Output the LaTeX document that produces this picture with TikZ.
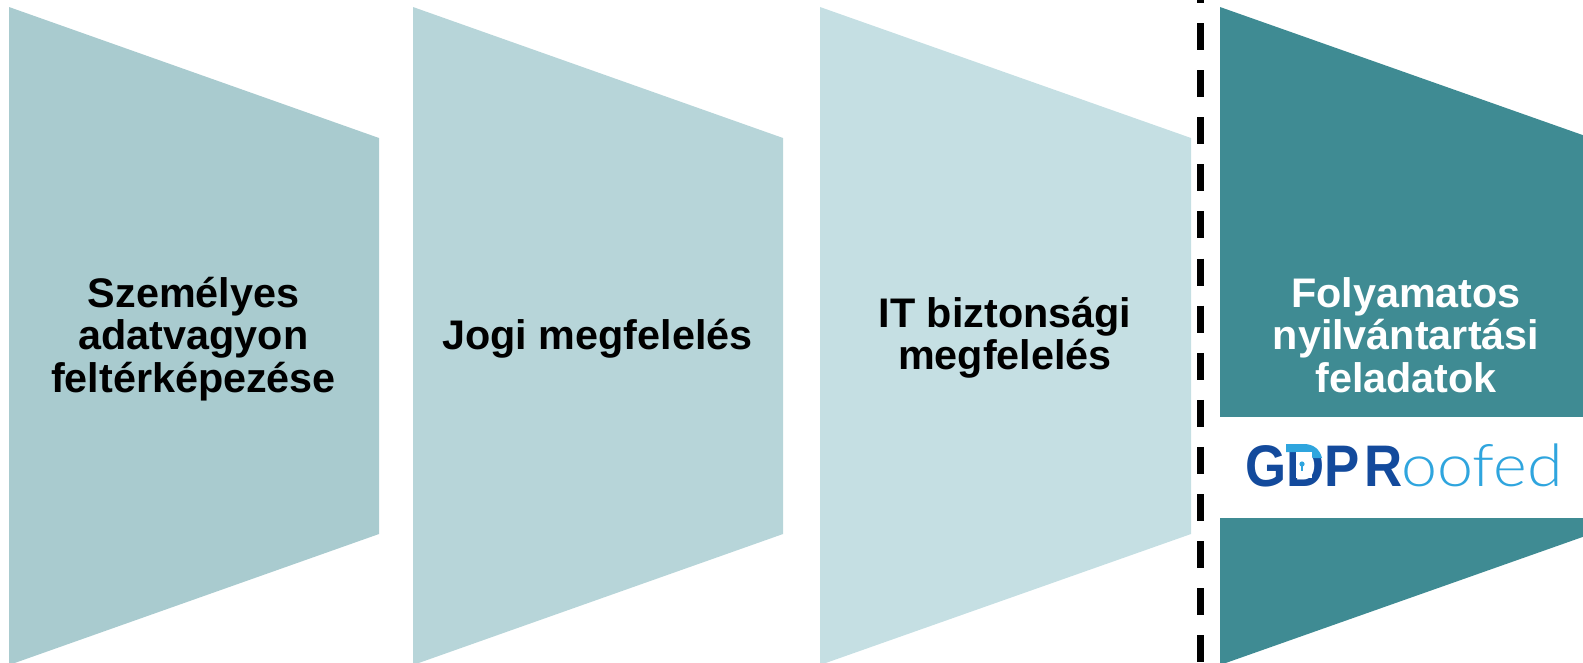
\documentclass[tikz,border=0pt]{standalone}
\usepackage{fontspec}
\setmainfont{Liberation Sans}
\newfontfamily\logolight[FakeStretch=1.1]{Lato Light}
\newfontfamily\logobold[FakeStretch=0.9]{Liberation Sans Bold}
\definecolor{bandA}{HTML}{A9CBCF}
\definecolor{bandB}{HTML}{B7D5D9}
\definecolor{bandC}{HTML}{C5DFE3}
\definecolor{bandD}{HTML}{3F8B93}
\definecolor{logoDark}{HTML}{134A9C}
\definecolor{logoLight}{HTML}{2FA5DE}
\tikzset{
  lbl/.style={font=\bfseries\fontsize{31pt}{31.8pt}\selectfont,align=center,text=black,inner sep=0pt},
  lblw/.style={lbl,text=white},
}
\begin{document}
\begin{tikzpicture}[x=0.75pt,y=-0.75pt]
\useasboundingbox (0,0) rectangle (1583,662);
\clip (0,0) rectangle (1583,662);
\fill[bandA] (9,7) -- (379,138) -- (379,534) -- (9,665) -- cycle;
\fill[bandB] (413,7) -- (783,138) -- (783,534) -- (413,665) -- cycle;
\fill[bandC] (820,7) -- (1191,138) -- (1191,534) -- (820,665) -- cycle;
\fill[bandD] (1220,7) -- (1591,138) -- (1591,534) -- (1220,665) -- cycle;
\fill[white] (1220,417) rectangle (1583,518);
\draw[black,line width=5.25pt,dash pattern=on 20.25pt off 15.08pt] (1200.5,-24.1) -- (1200.5,662);
\node[lbl] (a) at (193.5,339) {Személyes\\adatvagyon\\feltérképezése};
\node[lbl] (b) at (597.5,339) {Jogi megfelelés};
\node[lbl] (c) at (1005,338) {IT biztonsági\\megfelelés};
\node[lblw] (d) at (1406,335) {Folyamatos\\nyilvántartási\\feladatok};
\node[inner sep=0pt,anchor=base west,text=logoDark,font=\logobold\fontsize{44pt}{44pt}\selectfont] (g) at (1245,486) {GDP\kern3.75pt R};
\node[inner sep=0pt,anchor=base west,text=logoLight,font=\logolight\fontsize{44pt}{44pt}\selectfont] (o) at (1401,486) {oofed};
\fill[logoLight] (1286,444) -- (1304,444) .. controls (1314,444) and (1320,450) .. (1322,458) -- (1313,458) .. controls (1311,454) and (1308,452) .. (1302,452) -- (1286,452) -- cycle;
\fill[white] (1296,452) rectangle (1312,478);
\fill[logoLight] (1302,464) circle[radius=2.6];
\fill[logoLight] (1301,464) rectangle (1303,471);
\end{tikzpicture}
\end{document}
